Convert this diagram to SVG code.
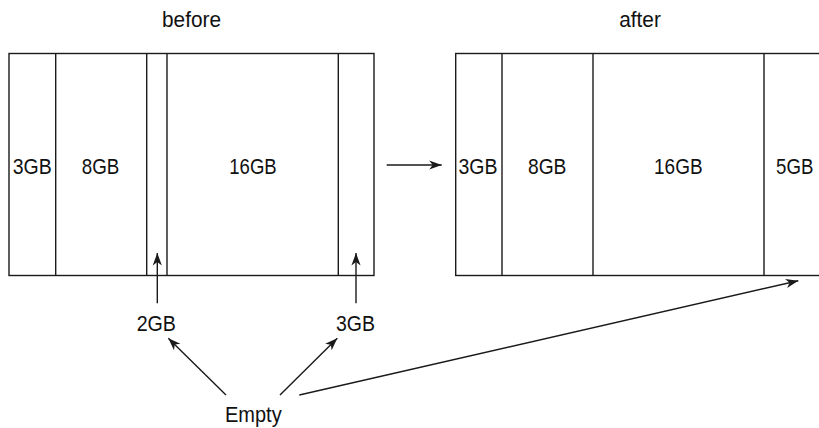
<svg xmlns="http://www.w3.org/2000/svg" width="819" height="428" viewBox="0 0 819 428">
<style>
.box{fill:none;stroke:#1a1a1a;stroke-width:1.4}
.div{stroke:#1a1a1a;stroke-width:1.4}
.con{fill:none;stroke:#1a1a1a;stroke-width:1.4}
text{font-family:"Liberation Sans",Arial,sans-serif;font-size:22px;fill:#111;text-anchor:middle}
</style>
<defs>
<marker id="ah" markerUnits="userSpaceOnUse" markerWidth="14" markerHeight="12" viewBox="-13 -6 14 12" refX="0" refY="0" orient="auto">
<path d="M0,0 L-12.5,-4.6 L-9,0 L-12.5,4.6 Z" fill="#1a1a1a"/>
</marker>
</defs>
<rect width="819" height="428" fill="#fff"/>
<text x="191.5" y="26.7" textLength="59" lengthAdjust="spacingAndGlyphs">before</text>
<text x="640" y="26.5" textLength="41.7" lengthAdjust="spacingAndGlyphs">after</text>
<g id="before">
<rect class="box" x="9" y="53.5" width="365" height="222"/>
<line class="div" x1="55.7" y1="53.5" x2="55.7" y2="275.5"/>
<line class="div" x1="146.7" y1="53.5" x2="146.7" y2="275.5"/>
<line class="div" x1="167" y1="53.5" x2="167" y2="275.5"/>
<line class="div" x1="338.3" y1="53.5" x2="338.3" y2="275.5"/>
<text x="32.2" y="174" textLength="39" lengthAdjust="spacingAndGlyphs">3GB</text>
<text x="100.5" y="174" textLength="37.6" lengthAdjust="spacingAndGlyphs">8GB</text>
<text x="253" y="174" textLength="47.4" lengthAdjust="spacingAndGlyphs">16GB</text>
</g>
<g id="after">
<rect class="box" x="455.7" y="53.5" width="380" height="222"/>
<line class="div" x1="502" y1="53.5" x2="502" y2="275.5"/>
<line class="div" x1="593" y1="53.5" x2="593" y2="275.5"/>
<line class="div" x1="764" y1="53.5" x2="764" y2="275.5"/>
<text x="478" y="174" textLength="39" lengthAdjust="spacingAndGlyphs">3GB</text>
<text x="547.2" y="174" textLength="38.5" lengthAdjust="spacingAndGlyphs">8GB</text>
<text x="678.3" y="174" textLength="48.5" lengthAdjust="spacingAndGlyphs">16GB</text>
<text x="794.7" y="174" textLength="37.3" lengthAdjust="spacingAndGlyphs">5GB</text>
</g>
<g id="label-2gb"><text x="156.3" y="330.7" textLength="39.3" lengthAdjust="spacingAndGlyphs">2GB</text></g>
<g id="label-3gb"><text x="355.5" y="330.7" textLength="39" lengthAdjust="spacingAndGlyphs">3GB</text></g>
<g id="label-empty"><text x="253.3" y="422" textLength="56.7" lengthAdjust="spacingAndGlyphs">Empty</text></g>
<g id="connectors">
<line class="con" x1="386.7" y1="165" x2="441.7" y2="165" marker-end="url(#ah)"/>
<line class="con" x1="157.3" y1="303.3" x2="157.3" y2="253" marker-end="url(#ah)"/>
<line class="con" x1="356" y1="303.3" x2="356" y2="253" marker-end="url(#ah)"/>
<line class="con" x1="226" y1="395" x2="168.3" y2="338.3" marker-end="url(#ah)"/>
<line class="con" x1="280" y1="395" x2="337.3" y2="338.3" marker-end="url(#ah)"/>
<line class="con" x1="299.3" y1="395" x2="798.3" y2="280.7" marker-end="url(#ah)"/>
</g>
</svg>
